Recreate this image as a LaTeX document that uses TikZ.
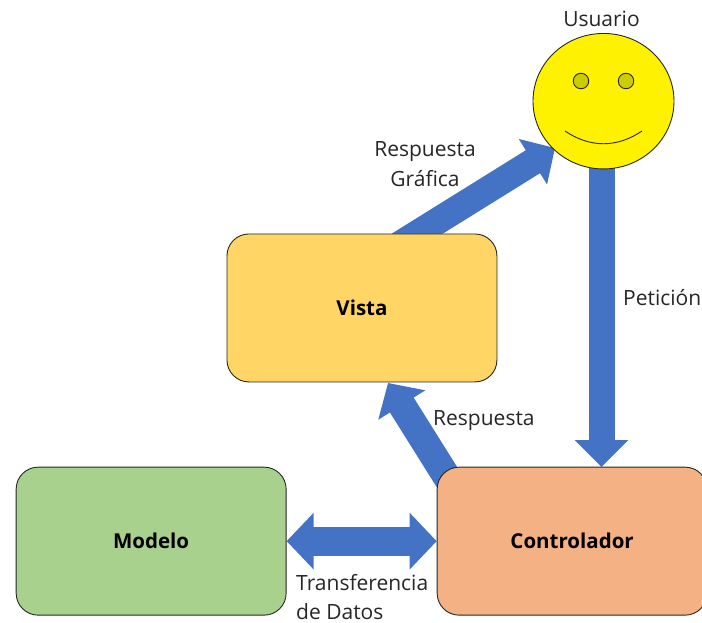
\documentclass[tikz,border=0pt]{standalone}
\usepackage{fontspec}
\setmainfont{Open Sans}
\usetikzlibrary{arrows.meta,backgrounds,calc,shapes.geometric}
\definecolor{blu}{HTML}{4472C4}
\definecolor{txt}{HTML}{262626}
\definecolor{edge}{HTML}{262626}
\definecolor{vistafill}{HTML}{FFD666}
\definecolor{modelofill}{HTML}{A9D18E}
\definecolor{ctrlfill}{HTML}{F4B183}
\definecolor{eyefill}{HTML}{CCCC00}
\tikzset{
 box/.style={draw=edge,line width=0.9pt,rounded corners=22pt,minimum width=270pt,minimum height=148pt,anchor=north west,font=\fontsize{20.5}{24}\selectfont\bfseries,text=black},
 lab/.style={font=\fontsize{21}{24}\selectfont,text=txt,inner sep=0pt},
 eye/.style={circle,draw=edge,line width=0.9pt,fill=eyefill,minimum size=15.5pt,inner sep=0pt},
 block/.style={draw=blu,line width=#1},
}
\begin{document}
\begin{tikzpicture}[x=1pt,y=-1pt]
\useasboundingbox (0,0) rectangle (702,623);
\node[box,fill=vistafill] (vista) at (226.5,233.5) {Vista};
\node[box,fill=modelofill] (modelo) at (15.7,466.7) {Modelo};
\node[box,fill=ctrlfill] (ctrl) at (436.7,466.7) {Controlador};
\node[ellipse,draw=edge,line width=0.9pt,fill=yellow,minimum width=141pt,minimum height=135.5pt,inner sep=0pt] (user) at (603.5,101.2) {};
\node[lab,anchor=base] (ulab) at (601.5,27) {Usuario};
\node[eye] (eye1) at (581,81) {};
\node[eye] (eye2) at (626,81) {};
\coordinate (mouthL) at (565,131);
\coordinate (mouthR) at (642,131);
\draw[line width=0.9pt,edge] (mouthL) .. controls (590,148) and (617,148) .. (mouthR);
\coordinate (petTip) at (601.5,467);
\coordinate (rgStart) at (399,245);
\coordinate (rgTip) at (555,148);
\coordinate (respStart) at (455,490);
\coordinate (respTip) at (388,383);
\begin{scope}[on background layer]
 \draw[block=26pt,-{Triangle[length=27pt,width=52pt]}] (user.center -| petTip) -- (petTip);
 \draw[block=27pt,-{Triangle[length=26pt,width=52pt]}] (rgStart) -- (rgTip);
 \draw[block=28pt,-{Triangle[length=26pt,width=54pt]}] (respStart) -- (respTip);
 \draw[block=29pt,{Triangle[length=27pt,width=55pt]}-{Triangle[length=27pt,width=55pt]}] (modelo.east) -- (modelo.east -| ctrl.west);
\end{scope}
\node[lab,anchor=base west] (pet) at (623,305) {Petición};
\node[lab,anchor=base] (rg1) at (425,157) {Respuesta};
\node[lab,anchor=base] (rg2) at (425,187) {Gráfica};
\node[lab,anchor=base west] (resp) at (433,425) {Respuesta};
\node[lab,anchor=base west] (td1) at (296,590) {Transferencia};
\node[lab,anchor=base west] (td2) at (296,619) {de Datos};
\end{tikzpicture}
\end{document}
